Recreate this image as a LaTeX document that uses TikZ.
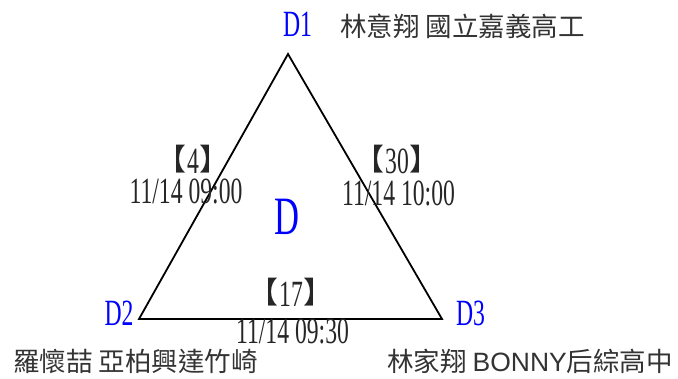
\documentclass[tikz,border=0pt]{standalone}
\usepackage{fontspec}
\newfontfamily\narrowserif{Liberation Serif}[FakeStretch=0.64]
\newfontfamily\cjkfont{Noto Sans CJK TC}
\newfontfamily\arialfont{Liberation Sans}
\tikzset{
  vtx/.style={font=\narrowserif\fontsize{37}{37}\selectfont, text=blue, inner sep=0pt, anchor=base},
  cnt/.style={font=\narrowserif\fontsize{37}{37}\selectfont, text=black!85, inner sep=0pt, anchor=base},
  who/.style={font=\cjkfont\fontsize{26.5}{26.5}\selectfont, text=black!80, inner sep=0pt, anchor=base west},
}
\newcommand{\brk}[1]{\raisebox{3pt}{\cjkfont\fontsize{30}{30}\selectfont 【}\hspace{1pt}#1\hspace{1pt}\raisebox{3pt}{\cjkfont\fontsize{30}{30}\selectfont 】}}
\begin{document}
\begin{tikzpicture}[x=1pt,y=-1pt]
 \useasboundingbox (0,0) rectangle (678,378);
 % triangle corners
 \coordinate (c1) at (288,54);
 \coordinate (c2) at (139,319);
 \coordinate (c3) at (442,319);
 \draw[line width=1.8pt, line join=miter] (c1) -- (c2) -- (c3) -- cycle;
 % vertex labels
 \node[vtx] (d1) at (297.5,36) {D1};
 \node[vtx] (d2) at (119,325) {D2};
 \node[vtx] (d3) at (470.5,325) {D3};
 \node[vtx, font=\narrowserif\fontsize{54}{54}\selectfont] (dd) at (286.5,234) {D};
 % edge counts and times
 \node[cnt] (n12) at (193,173) {\brk{4}};
 \node[cnt] (t12) at (186,203) {11/14 09:00};
 \node[cnt] (n13) at (397,173) {\brk{30}};
 \node[cnt] (t13) at (398.5,205) {11/14 10:00};
 \node[cnt] (n23) at (291,306) {\brk{17}};
 \node[cnt] (t23) at (292.5,343) {11/14 09:30};
 % names
 \node[who] (p1) at (340,36) {林意翔 國立嘉義高工};
 \node[who] (p2) at (13,371) {羅懷喆 亞柏興達竹崎};
 \node[who] (p3) at (387,371) {林家翔 {\arialfont BONNY}后綜高中};
\end{tikzpicture}
\end{document}
